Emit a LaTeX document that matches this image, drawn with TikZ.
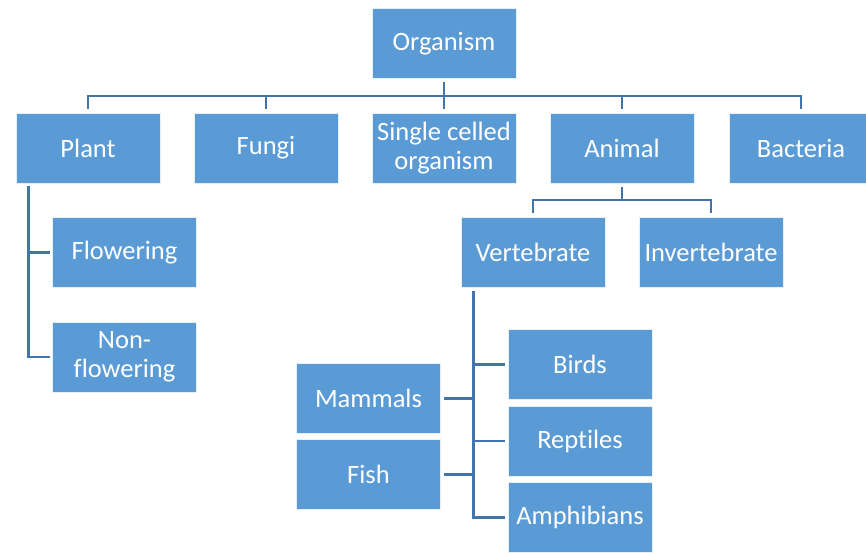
\documentclass[tikz,border=0pt]{standalone}
\usepackage{fontspec}
\setmainfont{Carlito}[Ligatures={NoCommon}]
\definecolor{boxfill}{HTML}{5B9BD5}
\definecolor{linec}{HTML}{4275AC}
\begin{document}
\begin{tikzpicture}[x=1pt,y=-1pt,
  box/.style={fill=boxfill,draw=white!85!boxfill,line width=0.6pt,minimum width=144pt,minimum height=70pt,inner sep=0pt,align=center,text=white,font=\fontsize{26.5}{29.5}\selectfont},
  conn/.style={draw=linec,line width=2.6pt}]
\useasboundingbox (0,0) rectangle (866,553);
\node[box] (org) at (444,43.5) {Organism};
\node[box] (plant) at (88,148) {Plant};
\node[box] (fungi) at (266,148) {Fungi};
\node[box] (single) at (444,148) {Single celled\\organism};
\node[box] (animal) at (622,148) {Animal};
\node[box] (bact) at (801,148) {Bacteria};
\node[box] (flow) at (124.5,252.5) {Flowering};
\node[box] (nonf) at (124.5,357) {Non-\\flowering};
\node[box] (vert) at (533,252) {Vertebrate};
\node[box] (invert) at (711,252) {Invertebrate};
\node[box] (birds) at (580,364.5) {Birds};
\node[box] (rept) at (580,441) {Reptiles};
\node[box] (amph) at (580,517.5) {Amphibians};
\node[box] (mamm) at (368.5,398.5) {Mammals};
\node[box] (fish) at (368.5,474.5) {Fish};
% organism level
\coordinate (bus) at (0,96);
\draw[conn] ([yshift=-3]org.south) -- ([yshift=4]single.north);
\draw[conn] ([yshift=4]plant.north) -- (plant.north |- bus) -- (bact.north |- bus) -- ([yshift=4]bact.north);
\draw[conn] (fungi.north |- bus) -- ([yshift=4]fungi.north);
\draw[conn] (animal.north |- bus) -- ([yshift=4]animal.north);
% plant
\coordinate (pl) at ([xshift=13,yshift=-3]plant.south west);
\draw[conn] (pl) |- ([xshift=-2]nonf.west);
\draw[conn] (pl |- flow.west) -- ([xshift=-2]flow.west);
% animal
\coordinate (abus) at (0,200);
\draw[conn] ([yshift=-4]animal.south) -- (animal.south |- abus);
\draw[conn] ([yshift=4]vert.north) -- (vert.north |- abus) -- (invert.north |- abus) -- ([yshift=4]invert.north);
% vertebrate
\coordinate (vl) at ([xshift=13,yshift=-4]vert.south west);
\draw[conn] (vl) |- ([xshift=-3]amph.west);
\draw[conn] (vl |- birds.west) -- ([xshift=-3]birds.west);
\draw[conn] (vl |- rept.west) -- ([xshift=-3]rept.west);
\draw[conn] ([xshift=3]mamm.east) -- (vl |- mamm.east);
\draw[conn] ([xshift=3]fish.east) -- (vl |- fish.east);
\end{tikzpicture}
\end{document}
